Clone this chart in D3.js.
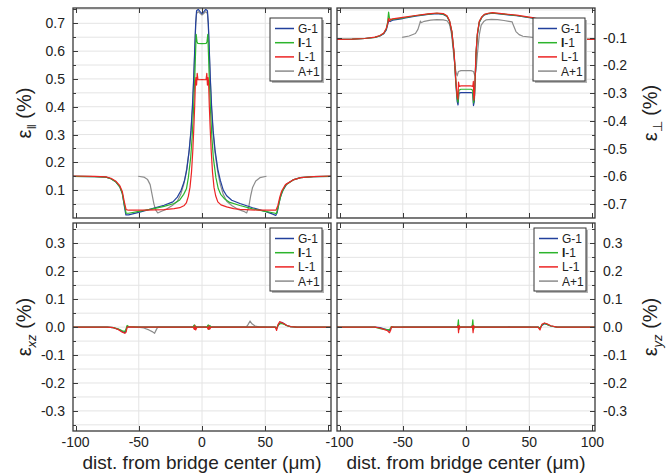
<!DOCTYPE html>
<html lang="en">
<head>
<meta charset="utf-8" />
<title>Strain profiles across the bridge</title>
<script src="https://cdn.jsdelivr.net/npm/d3@7"></script>
<style>
  body { margin: 0; background: #fff; }
  text { font-family: "Liberation Sans", Arial, sans-serif; fill: #222; }
</style>
</head>
<body>
<script>
// series names and colours (same order everywhere)
var seriesNames = ["G-1", "I-1", "L-1", "A+1"];
var seriesColors = ["#22409c", "#2cb42c", "#ec2424", "#8c8c8c"];

var xTickValues = [-100, -50, 0, 50, 100];
var xGridValues = [-50, 0, 50];
var parTicks = [0.1, 0.2, 0.3, 0.4, 0.5, 0.6, 0.7];
var perpTicks = [-0.7, -0.6, -0.5, -0.4, -0.3, -0.2, -0.1];
var shearTicks = [-0.3, -0.2, -0.1, 0.0, 0.1, 0.2, 0.3];

// eps parallel (%), [x in um, value]
var parG1 = [[-102,0.150],[-85,0.149],[-76,0.147],[-72,0.141],[-68,0.129],[-65,0.112],[-63,0.088],[-61.5,0.045],[-60.2,0.011],[-58,0.011],[-50,0.02],[-40,0.033],[-30,0.046],[-23,0.058],[-19.5,0.075],[-16.5,0.1],[-13.8,0.135],[-12,0.175],[-10.1,0.245],[-8.7,0.315],[-7.6,0.4],[-6.6,0.5],[-5.8,0.6],[-5,0.7],[-4.3,0.745],[-3,0.75],[-1.5,0.742],[0,0.735],[1.5,0.742],[3,0.75],[4.3,0.745],[5,0.7],[5.8,0.6],[6.6,0.5],[7.6,0.4],[8.8,0.315],[10.3,0.245],[12.5,0.175],[14.5,0.135],[16.8,0.1],[19.5,0.08],[23.5,0.064],[30,0.052],[40,0.037],[50,0.024],[56,0.014],[58.3,0.009],[59.5,0.02],[60.5,0.045],[62,0.075],[64,0.1],[67,0.122],[72,0.137],[78,0.145],[88,0.149],[102,0.150]];
var parI1 = [[-102,0.150],[-85,0.149],[-76,0.147],[-72,0.141],[-68,0.129],[-65,0.112],[-63,0.088],[-61.5,0.05],[-60,0.017],[-58,0.017],[-50,0.024],[-40,0.032],[-30,0.042],[-22,0.052],[-17.6,0.065],[-14.5,0.085],[-12.3,0.105],[-10.8,0.145],[-9,0.215],[-7.8,0.29],[-6.8,0.38],[-5.9,0.48],[-5.2,0.58],[-4.6,0.66],[-4.0,0.635],[-3.4,0.628],[0,0.627],[3.4,0.628],[4.0,0.635],[4.6,0.66],[5.2,0.58],[5.9,0.48],[6.8,0.38],[7.8,0.29],[9,0.215],[11,0.145],[12.9,0.105],[14.8,0.085],[18,0.068],[22,0.056],[30,0.045],[40,0.033],[50,0.024],[57,0.018],[58.8,0.016],[60,0.035],[61.5,0.065],[63,0.09],[66,0.118],[72,0.137],[78,0.145],[88,0.149],[102,0.150]];
var parL1 = [[-102,0.151],[-85,0.15],[-76,0.148],[-72,0.143],[-68,0.132],[-65,0.116],[-63,0.095],[-61.5,0.06],[-60,0.03],[-58,0.028],[-45,0.028],[-30,0.03],[-22,0.034],[-17.6,0.037],[-14,0.045],[-12.4,0.054],[-10.8,0.078],[-9.5,0.11],[-8.3,0.165],[-7.3,0.24],[-6.5,0.32],[-5.8,0.4],[-5.2,0.49],[-4.8,0.505],[-4.3,0.478],[-3.8,0.52],[-3.2,0.497],[0,0.498],[3.2,0.497],[3.8,0.52],[4.3,0.478],[4.8,0.505],[5.2,0.49],[5.8,0.4],[6.5,0.32],[7.3,0.24],[8.3,0.165],[9.5,0.11],[10.8,0.08],[12.5,0.058],[15,0.047],[19.5,0.04],[25,0.034],[30,0.031],[45,0.028],[58.5,0.028],[60,0.045],[61.5,0.075],[63,0.097],[66,0.12],[72,0.137],[78,0.145],[88,0.149],[102,0.151]];
var parA1 = [[-50.5,0.15],[-46,0.147],[-43,0.138],[-41,0.12],[-39.5,0.085],[-38,0.05],[-36.5,0.028],[-35,0.018],[-32,0.024],[-28,0.032],[-23.5,0.045],[-19.5,0.06],[-16.8,0.085],[-14.5,0.12],[-12.5,0.165],[-10.3,0.235],[-8.8,0.305],[-7.6,0.39],[-6.6,0.49],[-5.8,0.59],[-5,0.69],[-4.3,0.735],[-3,0.742],[0,0.73],[3,0.742],[4.3,0.735],[5,0.69],[5.8,0.59],[6.6,0.49],[7.6,0.39],[8.8,0.305],[10.3,0.235],[12.5,0.165],[14.5,0.12],[16.8,0.085],[19.5,0.06],[23.5,0.045],[28,0.032],[33,0.024],[35.3,0.018],[37,0.04],[38.5,0.08],[40,0.11],[42.5,0.133],[45.8,0.145],[51,0.15]];

// eps perpendicular (%)
var perpG1 = [[-102,-0.106],[-90,-0.105],[-80,-0.103],[-72,-0.099],[-68,-0.094],[-65,-0.086],[-63,-0.072],[-61.8,-0.05],[-61,-0.038],[-60,-0.042],[-58,-0.037],[-50,-0.031],[-40,-0.022],[-30,-0.016],[-23,-0.013],[-18,-0.016],[-15,-0.024],[-13,-0.042],[-11.2,-0.08],[-9.4,-0.16],[-8.1,-0.26],[-7,-0.33],[-6.3,-0.343],[-5.6,-0.3],[-4,-0.298],[0,-0.298],[4,-0.298],[5.3,-0.3],[5.9,-0.345],[6.6,-0.33],[7.2,-0.26],[7.9,-0.162],[9,-0.09],[10.5,-0.045],[12.5,-0.027],[14.5,-0.018],[18.4,-0.013],[21,-0.012],[30,-0.016],[40,-0.021],[52.7,-0.03],[56,-0.033],[59,-0.04],[61,-0.062],[64,-0.085],[68,-0.097],[75,-0.103],[85,-0.105],[102,-0.106]];
var perpI1 = [[-102,-0.106],[-90,-0.105],[-80,-0.103],[-72,-0.099],[-68,-0.093],[-65,-0.084],[-63,-0.068],[-62,-0.045],[-61.2,-0.008],[-60.5,-0.03],[-59.5,-0.036],[-58,-0.034],[-50,-0.029],[-40,-0.021],[-30,-0.015],[-23,-0.012],[-18,-0.015],[-15,-0.023],[-13,-0.041],[-11.2,-0.078],[-9.4,-0.158],[-8.1,-0.255],[-7,-0.32],[-6.3,-0.333],[-5.6,-0.29],[-4,-0.286],[0,-0.286],[4,-0.286],[5.3,-0.29],[5.9,-0.335],[6.6,-0.32],[7.2,-0.255],[7.9,-0.158],[9,-0.088],[10.5,-0.043],[12.5,-0.026],[14.5,-0.017],[18.4,-0.012],[21,-0.011],[30,-0.015],[40,-0.02],[52.7,-0.029],[56,-0.032],[59,-0.038],[61,-0.06],[64,-0.083],[68,-0.096],[75,-0.103],[85,-0.105],[102,-0.106]];
var perpL1 = [[-102,-0.106],[-90,-0.105],[-80,-0.103],[-72,-0.098],[-68,-0.092],[-65,-0.083],[-63,-0.066],[-62,-0.05],[-61.2,-0.03],[-60.5,-0.04],[-59.5,-0.034],[-58,-0.032],[-50,-0.027],[-40,-0.02],[-30,-0.014],[-23,-0.011],[-18,-0.013],[-15,-0.021],[-13,-0.039],[-11.2,-0.076],[-9.4,-0.155],[-8.1,-0.25],[-7,-0.31],[-6.4,-0.322],[-5.9,-0.26],[-5.4,-0.276],[-4,-0.274],[0,-0.274],[4,-0.274],[5.4,-0.276],[5.8,-0.258],[6.2,-0.325],[6.7,-0.31],[7.2,-0.25],[7.9,-0.155],[9,-0.085],[10.5,-0.041],[12.5,-0.025],[14.5,-0.016],[18.4,-0.011],[21,-0.01],[30,-0.014],[40,-0.019],[52.7,-0.028],[56,-0.031],[59,-0.037],[61,-0.058],[64,-0.082],[68,-0.095],[75,-0.102],[85,-0.105],[102,-0.106]];
var perpA1 = [[-50.5,-0.099],[-45,-0.094],[-40,-0.085],[-38,-0.07],[-36.5,-0.048],[-36,-0.04],[-35.5,-0.046],[-33,-0.041],[-28,-0.037],[-23,-0.035],[-18,-0.036],[-15,-0.039],[-13,-0.052],[-11.5,-0.085],[-10,-0.15],[-8.8,-0.2],[-8,-0.222],[-7,-0.238],[-6,-0.222],[-4,-0.219],[0,-0.219],[4,-0.219],[6,-0.222],[7,-0.238],[7.9,-0.22],[9,-0.16],[10.5,-0.09],[12,-0.055],[14,-0.042],[15.8,-0.036],[20,-0.034],[25,-0.035],[30,-0.038],[34,-0.041],[36.5,-0.043],[37,-0.05],[39.5,-0.078],[42,-0.089],[45,-0.095],[52.7,-0.099]];

// eps xz (%)
var xzG1 = [[-102,0],[-75,0],[-70,-0.002],[-66,-0.008],[-63,-0.016],[-61,-0.02],[-60,-0.012],[-59.2,0.002],[-58,0.001],[-50,0],[-7,0],[-6,0.006],[-5.5,-0.006],[-5,0.002],[-4,0],[4,0],[5,0.005],[5.6,-0.006],[6.2,0.004],[7,0],[58,0],[59,-0.006],[60,0.004],[61.5,0.014],[63,0.017],[65,0.012],[67,0.006],[70,0.002],[75,0],[102,0]];
var xzI1 = [[-102,0],[-75,0],[-70,-0.002],[-66,-0.007],[-63,-0.013],[-61,-0.016],[-60,-0.006],[-59.2,0.006],[-58,0.002],[-50,0],[-7,0],[-6,0.008],[-5.5,-0.004],[-5,0.003],[-4,0],[4,0],[5,0.008],[5.6,-0.008],[6.2,0.006],[7,0],[58,0],[59,-0.004],[60,0.006],[61.5,0.012],[63,0.013],[65,0.01],[67,0.005],[70,0.002],[75,0],[102,0]];
var xzL1 = [[-102,0],[-75,0],[-70,-0.002],[-66,-0.009],[-63,-0.018],[-61,-0.022],[-60,-0.018],[-59.2,0],[-58,0.001],[-50,0],[-7,0],[-6,-0.008],[-5.5,0.006],[-5,-0.01],[-4,0],[4,0],[5,-0.008],[5.6,0.005],[6.2,-0.006],[7,0],[58,0],[59,-0.012],[60,0.008],[61.5,0.02],[63,0.016],[65,0.012],[67,0.006],[70,0.002],[75,0],[102,0]];
var xzA1 = [[-50.5,0],[-46,-0.003],[-42,-0.01],[-39,-0.017],[-37.5,-0.022],[-36,-0.008],[-35,0],[-8,0],[-6,0.004],[-5,-0.004],[-4,0],[4,0],[5,0.006],[6,-0.004],[7,0],[35,0],[36.5,0.01],[38,0.022],[39.5,0.012],[42,0.004],[45,0.001],[51,0]];

// eps yz (%)
var yzG1 = [[-102,0],[-72,0],[-68,-0.002],[-65,-0.006],[-62,-0.01],[-60,-0.012],[-59,0.001],[-57,0],[-7,0],[-6.2,0.005],[-5.6,-0.006],[-5,0],[4.5,0],[5.2,0.006],[5.8,-0.005],[6.5,0.002],[7,0],[57,0],[58.5,-0.004],[60,0.006],[62,0.012],[64,0.01],[67,0.004],[72,0],[102,0]];
var yzI1 = [[-102,0],[-72,0],[-70,-0.003],[-67,-0.006],[-64,-0.008],[-61,-0.01],[-59.5,-0.004],[-59,0.002],[-57,0],[-7,0],[-6.5,0.005],[-6,0.026],[-5.6,-0.008],[-5,0],[4.5,0],[5,0.008],[5.4,0.026],[5.9,-0.01],[6.5,0.002],[7,0],[57,0],[58.5,-0.003],[60,0.008],[62,0.014],[64,0.01],[67,0.004],[72,0],[102,0]];
var yzL1 = [[-102,0],[-72,0],[-68,-0.003],[-65,-0.008],[-62,-0.013],[-60.5,-0.02],[-59.5,-0.01],[-59,0.001],[-57,0],[-7,0],[-6.3,0.004],[-5.9,-0.02],[-5.4,0.006],[-5,0],[4.5,0],[5.1,0.004],[5.6,-0.02],[6.1,0.006],[6.6,0],[57,0],[58.5,-0.01],[60,0.01],[62,0.015],[64,0.012],[67,0.005],[72,0],[102,0]];
var yzA1 = [[-50.5,0],[-8,0],[-6,0.004],[-5,-0.003],[-4,0],[4,0],[5,0.004],[6,-0.003],[7,0],[33,0],[34,0.002],[35,0],[51,0]];

var width = 671, height = 476;
var svg = d3.select("body").append("svg").attr("width", width).attr("height", height);

var panels = [
  { x0: 73, x1: 331, y0: 8, y1: 218, yDomain: [0, 0.755], majors: parTicks,
    minors: d3.range(1, 16).map(function(i) { return i * 0.05; }),
    side: "left", sym: "\u2016", italic: false, legend: [270, 18],
    series: [parG1, parI1, parL1, parA1], xLabels: [] },
  { x0: 337, x1: 595, y0: 8, y1: 218, yDomain: [-0.7505, 0.007], majors: perpTicks,
    minors: d3.range(-15, 1).map(function(i) { return i * 0.05; }),
    side: "right", sym: "\u22A5", italic: false, legend: [533, 18],
    series: [perpG1, perpI1, perpL1, perpA1], xLabels: [] },
  { x0: 73, x1: 331, y0: 223, y1: 431, yDomain: [-0.372, 0.373], majors: shearTicks,
    minors: d3.range(-7, 8).map(function(i) { return i * 0.05; }),
    side: "left", sym: "xz", italic: true, legend: [270, 228],
    series: [xzG1, xzI1, xzL1, xzA1], xLabels: [-100, -50, 0, 50] },
  { x0: 337, x1: 595, y0: 223, y1: 431, yDomain: [-0.372, 0.373], majors: shearTicks,
    minors: d3.range(-7, 8).map(function(i) { return i * 0.05; }),
    side: "right", sym: "yz", italic: true, legend: [534, 228],
    series: [yzG1, yzI1, yzL1, yzA1], xLabels: xTickValues }
];

panels.forEach(function(p, pi) {
  var x = d3.scaleLinear().domain([-102, 102]).range([p.x0, p.x1]);
  var y = d3.scaleLinear().domain(p.yDomain).range([p.y1, p.y0]);
  var g = svg.append("g");

  // grid
  g.selectAll(".hg").data(p.minors).enter().append("line")
    .attr("x1", p.x0).attr("x2", p.x1)
    .attr("y1", function(d) { return y(d); }).attr("y2", function(d) { return y(d); })
    .attr("stroke", "#e4e4e4").attr("stroke-width", 1);
  g.selectAll(".vg").data(xGridValues).enter().append("line")
    .attr("x1", function(d) { return x(d); }).attr("x2", function(d) { return x(d); })
    .attr("y1", p.y0).attr("y2", p.y1)
    .attr("stroke", "#e4e4e4").attr("stroke-width", 1);

  // curves
  var clipId = "clip" + pi;
  svg.append("clipPath").attr("id", clipId).append("rect")
    .attr("x", p.x0).attr("y", p.y0).attr("width", p.x1 - p.x0).attr("height", p.y1 - p.y0);
  var line = d3.line().x(function(d) { return x(d[0]); }).y(function(d) { return y(d[1]); });
  var order = [3, 0, 1, 2];
  order.forEach(function(si) {
    g.append("path").datum(p.series[si])
      .attr("clip-path", "url(#" + clipId + ")")
      .attr("d", line)
      .attr("fill", "none")
      .attr("stroke", seriesColors[si])
      .attr("stroke-width", 1.2)
      .attr("stroke-linejoin", "round");
  });

  // frame
  g.append("rect").attr("x", p.x0).attr("y", p.y0)
    .attr("width", p.x1 - p.x0).attr("height", p.y1 - p.y0)
    .attr("fill", "none").attr("stroke", "#3a3a3a").attr("stroke-width", 1.3);

  // inward ticks on all sides
  var tk = g.append("g").attr("stroke", "#3a3a3a").attr("stroke-width", 1);
  p.minors.forEach(function(v) {
    var isMajor = p.majors.some(function(m) { return Math.abs(m - v) < 1e-6; });
    var len = isMajor ? 5 : 3;
    var yy = Math.round(y(v)) + 0.5;
    if (yy < p.y0 + 1 || yy > p.y1 - 1) return;
    tk.append("line").attr("x1", p.x0).attr("x2", p.x0 + len).attr("y1", yy).attr("y2", yy);
    tk.append("line").attr("x1", p.x1).attr("x2", p.x1 - len).attr("y1", yy).attr("y2", yy);
  });
  xTickValues.forEach(function(v) {
    var xx = Math.round(x(v)) + 0.5;
    tk.append("line").attr("x1", xx).attr("x2", xx).attr("y1", p.y0).attr("y2", p.y0 + 5);
    tk.append("line").attr("x1", xx).attr("x2", xx).attr("y1", p.y1).attr("y2", p.y1 - 5);
  });

  // y tick labels
  g.selectAll(".yl").data(p.majors).enter().append("text")
    .attr("x", p.side === "left" ? p.x0 - 8 : p.x1 + 8)
    .attr("y", function(d) { return y(d) + 5; })
    .attr("text-anchor", p.side === "left" ? "end" : "start")
    .attr("font-size", 14)
    .text(function(d) { return d.toFixed(1); });

  // x tick labels
  g.selectAll(".xl").data(p.xLabels).enter().append("text")
    .attr("x", function(d) { return x(d); })
    .attr("y", p.y1 + 16)
    .attr("text-anchor", "middle")
    .attr("font-size", 14)
    .text(function(d) { return String(d); });

  if (p.xLabels.length) {
    g.append("text")
      .attr("x", (p.x0 + p.x1) / 2).attr("y", 469)
      .attr("text-anchor", "middle").attr("font-size", 19)
      .text("dist. from bridge center (\u03BCm)");
  }

  // y title
  var tx = p.side === "left" ? 31 : 657;
  var t = g.append("text")
    .attr("transform", "translate(" + tx + "," + ((p.y0 + p.y1) / 2) + ") rotate(-90)")
    .attr("text-anchor", "middle").attr("font-size", 20);
  t.append("tspan").text("\u03B5");
  t.append("tspan").attr("dy", 5).attr("font-size", 13)
    .attr("font-style", p.italic ? "italic" : "normal").text(p.sym);
  t.append("tspan").attr("dy", -5).text(" (%)");

  // legend
  var lx = p.legend[0], ly = p.legend[1], lw = 52, lh = 63;
  var lg = g.append("g");
  lg.append("rect").attr("x", lx + 2).attr("y", ly + 2).attr("width", lw).attr("height", lh)
    .attr("fill", "#b4b4b4");
  lg.append("rect").attr("x", lx).attr("y", ly).attr("width", lw).attr("height", lh)
    .attr("fill", "#fff").attr("stroke", "#333").attr("stroke-width", 1);
  seriesNames.forEach(function(name, i) {
    var ry = ly + 10.5 + i * 14.2;
    lg.append("line").attr("x1", lx + 5).attr("x2", lx + 24).attr("y1", ry).attr("y2", ry)
      .attr("stroke", seriesColors[i]).attr("stroke-width", 1.5);
    var lt = lg.append("text").attr("x", lx + 28).attr("y", ry + 4.5).attr("font-size", 12);
    if (name === "I-1") {
      lt.append("tspan").attr("font-weight", "bold").text("I");
      lt.append("tspan").text("-1");
    } else {
      lt.text(name);
    }
  });
});
</script>
</body>
</html>
